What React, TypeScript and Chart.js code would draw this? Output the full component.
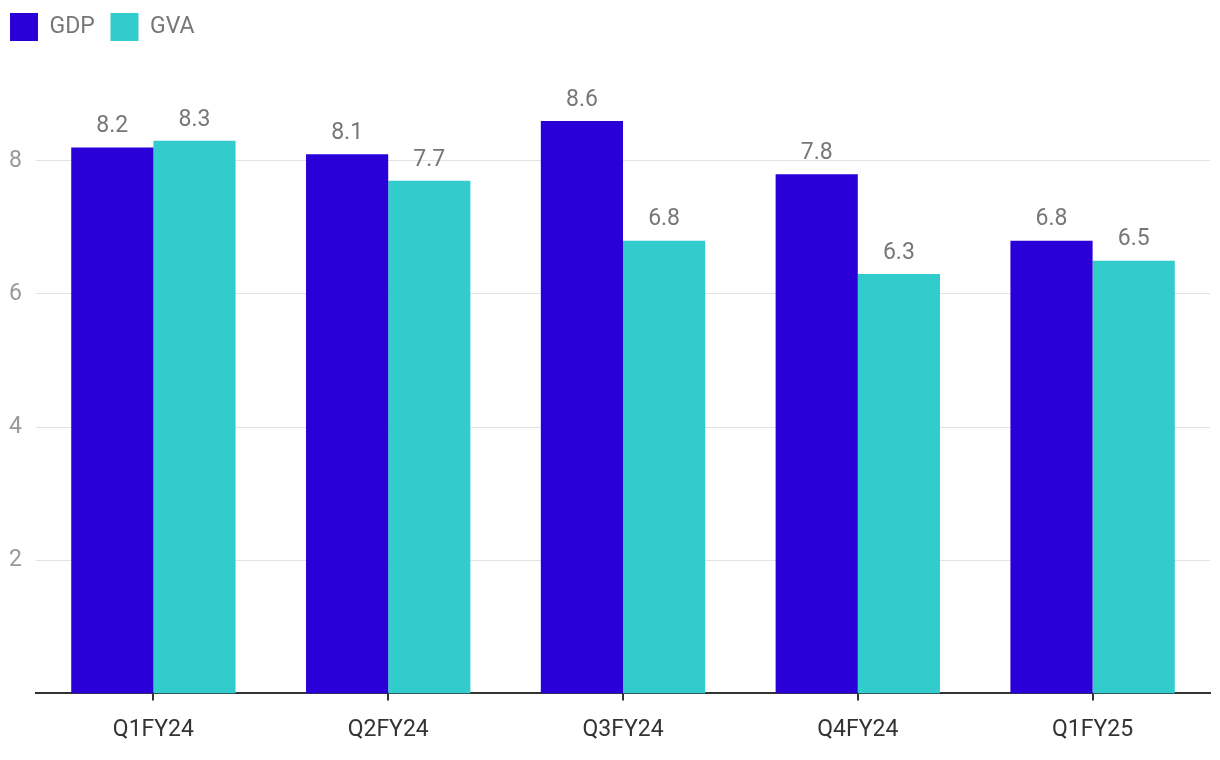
import React, { useEffect, useRef } from "react";
import { Chart, registerables } from "chart.js";

Chart.register(...registerables);

const categories = ["Q1FY24", "Q2FY24", "Q3FY24", "Q4FY24", "Q1FY25"];
const gdpValues = [8.2, 8.1, 8.6, 7.8, 6.8];
const gvaValues = [8.3, 7.7, 6.8, 6.3, 6.5];
const yTicks = [2, 4, 6, 8];

const FONT = "Roboto, 'Noto Sans', sans-serif";

const valueLabels = {
  id: "valueLabels",
  afterDatasetsDraw(chart: any) {
    const ctx = chart.ctx;
    ctx.save();
    ctx.font = `23px ${FONT}`;
    ctx.fillStyle = "#777777";
    ctx.textAlign = "center";
    ctx.textBaseline = "middle";
    chart.data.datasets.forEach((ds: any, i: number) => {
      const meta = chart.getDatasetMeta(i);
      meta.data.forEach((bar: any, j: number) => {
        ctx.fillText(ds.data[j].toFixed(1), bar.x, bar.y - 21);
      });
    });
    ctx.restore();
  },
};

export default function App() {
  const ref = useRef<HTMLCanvasElement>(null);
  useEffect(() => {
    if (!ref.current) return;
    const chart = new Chart(ref.current, {
      type: "bar",
      data: {
        labels: categories,
        datasets: [
          { label: "GDP", data: gdpValues, backgroundColor: "#2a00d8" },
          { label: "GVA", data: gvaValues, backgroundColor: "#33cccc" },
        ],
      },
      options: {
        animation: false,
        responsive: false,
        maintainAspectRatio: false,
        layout: { padding: { left: 0, right: 10, top: 3, bottom: 0 } },
        datasets: { bar: { categoryPercentage: 0.7, barPercentage: 1.0 } },
        plugins: {
          legend: {
            position: "top",
            align: "start",
            labels: {
              boxWidth: 28,
              boxHeight: 28,
              color: "#777777",
              font: { family: FONT, size: 23 },
              padding: 10,
              generateLabels: (chart: any) =>
                Chart.defaults.plugins.legend.labels
                  .generateLabels(chart)
                  .map((l: any) => ({ ...l, text: l.text + " " })),
            },
          },
          tooltip: { enabled: false },
        },
        scales: {
          x: {
            grid: {
              display: true,
              offset: false,
              drawOnChartArea: false,
              drawTicks: true,
              tickLength: 7,
              color: "#333333",
              lineWidth: 2,
            },
            border: { display: true, color: "#333333", width: 2 },
            ticks: {
              color: "#333333",
              font: { family: FONT, size: 23 },
              padding: 16,
            },
          },
          y: {
            min: 0,
            max: 9.65,
            afterBuildTicks: (axis: any) => {
              axis.ticks = yTicks.map((v) => ({ value: v }));
            },
            afterFit: (axis: any) => {
              axis.width = 36;
            },
            grid: { color: "#e3e3e3", lineWidth: 1, drawTicks: false },
            border: { display: false },
            ticks: {
              color: "#999999",
              font: { family: FONT, size: 23 },
              padding: 14,
            },
          },
        },
      },
      plugins: [valueLabels],
    });
    return () => chart.destroy();
  }, []);
  return (
    <div style={{ position: "fixed", left: 0, top: 0, width: 1220, height: 760, background: "#fff" }}>
      <canvas ref={ref} width={1220} height={760} style={{ display: "block" }} />
    </div>
  );
}
